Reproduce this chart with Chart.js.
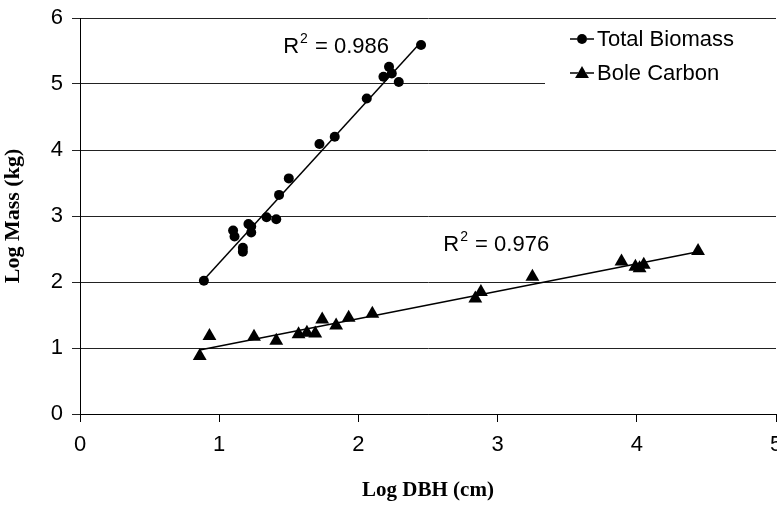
<!DOCTYPE html>
<html>
<head>
<meta charset="utf-8">
<script src="https://cdn.jsdelivr.net/npm/chart.js@4.4.1/dist/chart.umd.min.js"></script>
<style>
  html, body { margin: 0; padding: 0; background: #fff; }
  #wrap { width: 777px; height: 510px; }
</style>
</head>
<body>
<div id="wrap"><canvas id="biomass" width="777" height="510"></canvas></div>
<script>
// values (log10 units)
const biomassX = [0.89, 1.10, 1.11, 1.17, 1.17, 1.21, 1.23, 1.23, 1.34, 1.41, 1.43, 1.50, 1.72, 1.83, 2.06, 2.18, 2.22, 2.24, 2.29, 2.45];
const biomassY = [2.02, 2.78, 2.69, 2.52, 2.46, 2.88, 2.84, 2.75, 2.98, 2.95, 3.32, 3.57, 4.09, 4.20, 4.78, 5.11, 5.26, 5.16, 5.03, 5.59];

const boleX = [0.86, 0.93, 1.25, 1.41, 1.57, 1.63, 1.69, 1.74, 1.84, 1.93, 2.10, 2.84, 2.88, 3.25, 3.89, 3.99, 4.02, 4.05, 4.44];
const boleY = [0.88, 1.18, 1.17, 1.11, 1.21, 1.23, 1.22, 1.43, 1.34, 1.46, 1.52, 1.75, 1.85, 2.08, 2.31, 2.23, 2.21, 2.26, 2.47];

const seriesNames = ['Total Biomass', 'Bole Carbon'];
const r2Labels = ['0.986', '0.976'];
const xTicks = [0, 1, 2, 3, 4, 5];
const yTicks = [0, 1, 2, 3, 4, 5, 6];

const FONT = '"Liberation Sans", Arial, sans-serif';
const SERIF = '"Liberation Serif", "Times New Roman", serif';

function toPoints(xs, ys) {
    return xs.map(function (x, i) { return { x: x, y: ys[i] }; });
}

// least squares fit, drawn from min x to max x (like an Excel trendline)
function trend(xs, ys) {
    let n = xs.length, sx = 0, sy = 0, sxx = 0, sxy = 0;
    for (let i = 0; i < n; i++) {
        sx += xs[i]; sy += ys[i]; sxx += xs[i] * xs[i]; sxy += xs[i] * ys[i];
    }
    let b = (n * sxy - sx * sy) / (n * sxx - sx * sx);
    let a = (sy - b * sx) / n;
    let lo = Math.min.apply(null, xs), hi = Math.max.apply(null, xs);
    return [{ x: lo, y: a + b * lo }, { x: hi, y: a + b * hi }];
}

// legend box inside the plot + the R² texts
const annotations = {
    id: 'annotations',
    afterDatasetsDraw(chart) {
        const ctx = chart.ctx;
        const xs = chart.scales.x, ys = chart.scales.y;

        ctx.save();
        ctx.fillStyle = '#000';
        ctx.textBaseline = 'alphabetic';
        const r2pos = [[1.46, 5.47], [2.61, 2.47]];
        r2pos.forEach(function (p, i) {
            let px = xs.getPixelForValue(p[0]);
            let py = ys.getPixelForValue(p[1]);
            ctx.font = '22px ' + FONT;
            ctx.fillText('R', px, py);
            let w = ctx.measureText('R').width;
            ctx.font = '14px ' + FONT;
            ctx.fillText('2', px + w + 1, py - 10);
            let w2 = ctx.measureText('2').width;
            ctx.font = '22px ' + FONT;
            ctx.fillText(' = ' + r2Labels[i], px + w + w2 + 2, py);
        });

        // legend
        ctx.fillStyle = '#fff';
        ctx.fillRect(545, 22, 232, 70);
        const rows = [39, 73];
        [0, 2].forEach(function (di, i) {
            const ds = chart.data.datasets[di];
            ctx.strokeStyle = '#000';
            ctx.lineWidth = 1.5;
            ctx.beginPath();
            ctx.moveTo(570, rows[i]);
            ctx.lineTo(594, rows[i]);
            ctx.stroke();
            Chart.helpers.drawPoint(ctx, {
                pointStyle: ds.pointStyle,
                radius: ds.pointRadius,
                borderWidth: 0
            }, 582, rows[i] + (ds.pointStyle === 'triangle' ? 1 : 0));
            ctx.fillStyle = '#000';
            ctx.fill();
            ctx.font = '22px ' + FONT;
            ctx.textBaseline = 'middle';
            ctx.fillText(seriesNames[i], 597, rows[i] + 1);
            ctx.fillStyle = '#fff';
        });
        ctx.restore();
    }
};

const whiteBg = {
    id: 'whiteBg',
    beforeDraw(chart) {
        const ctx = chart.ctx;
        ctx.save();
        ctx.fillStyle = '#fff';
        ctx.fillRect(0, 0, chart.width, chart.height);
        ctx.restore();
    }
};

const config = {
    type: 'scatter',
    data: {
        datasets: [
            {
                label: seriesNames[0],
                data: toPoints(biomassX, biomassY),
                pointStyle: 'circle',
                pointRadius: 5,
                pointBackgroundColor: '#000',
                pointBorderColor: '#000',
                pointBorderWidth: 0,
                showLine: false
            },
            {
                label: 'biomass trend',
                data: trend(biomassX, biomassY),
                showLine: true,
                borderColor: '#000',
                borderWidth: 1.5,
                pointRadius: 0
            },
            {
                label: seriesNames[1],
                data: toPoints(boleX, boleY),
                pointStyle: 'triangle',
                pointRadius: 8,
                pointBackgroundColor: '#000',
                pointBorderColor: '#000',
                pointBorderWidth: 0,
                showLine: false
            },
            {
                label: 'bole trend',
                data: trend(boleX, boleY),
                showLine: true,
                borderColor: '#000',
                borderWidth: 1.5,
                pointRadius: 0
            }
        ]
    },
    options: {
        responsive: false,
        animation: false,
        layout: { autoPadding: false, padding: { top: 18, right: 1, left: 0, bottom: 0 } },
        plugins: {
            legend: { display: false },
            tooltip: { enabled: false },
            title: { display: false }
        },
        scales: {
            x: {
                type: 'linear',
                min: 0,
                max: 5,
                afterBuildTicks: function (s) { s.ticks = xTicks.map(function (v) { return { value: v }; }); },
                afterFit: function (s) { s.height = 96; s.paddingLeft = 0; s.paddingRight = 0; },
                ticks: {
                    color: '#000',
                    font: { family: FONT, size: 22 },
                    padding: 10
                },
                grid: {
                    drawOnChartArea: false,
                    drawTicks: true,
                    tickLength: 8,
                    color: '#000'
                },
                border: { color: '#000', width: 1 },
                title: {
                    display: true,
                    text: 'Log DBH (cm)',
                    color: '#000',
                    font: { family: SERIF, size: 21, weight: 'bold' },
                    padding: { top: 0, bottom: 7 }
                }
            },
            y: {
                type: 'linear',
                min: 0,
                max: 6,
                afterBuildTicks: function (s) { s.ticks = yTicks.map(function (v) { return { value: v }; }); },
                afterFit: function (s) { s.width = 80; s.paddingTop = 0; s.paddingBottom = 0; },
                ticks: {
                    color: '#000',
                    font: { family: FONT, size: 22 },
                    padding: 9
                },
                grid: {
                    color: '#222',
                    lineWidth: 1,
                    drawTicks: true,
                    tickLength: 8
                },
                border: { color: '#000', width: 1 },
                title: {
                    display: true,
                    text: 'Log Mass (kg)',
                    color: '#000',
                    font: { family: SERIF, size: 22, weight: 'bold' },
                    padding: { top: 0, bottom: 0 }
                }
            }
        }
    },
    plugins: [whiteBg, annotations]
};

let chart = new Chart(document.getElementById('biomass').getContext('2d'), config);
</script>
</body>
</html>
